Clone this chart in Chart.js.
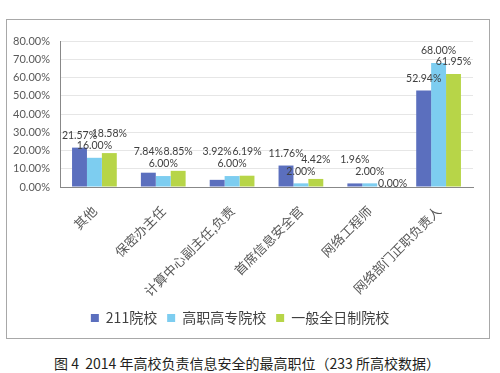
<!DOCTYPE html>
<html>
<head>
<meta charset="utf-8">
<script src="https://cdn.jsdelivr.net/npm/chart.js@4.4.1/dist/chart.umd.min.js"></script>
<style>
  html, body { margin: 0; padding: 0; background: #fff; }
  body { width: 500px; height: 373px; position: relative; overflow: hidden; }
  #box {
    position: absolute; left: 6px; top: 19px; width: 482px; height: 318px;
    border: 1.5px solid #a8a8a8;
  }
  #caption {
    position: absolute; left: 0; width: 494px; top: 353px; text-align: center;
    font-family: "Noto Sans CJK SC", sans-serif; font-size: 14px; color: #231f20;
    white-space: pre;
  }
</style>
</head>
<body>
<div id="box"><canvas id="myChart" width="482" height="318"></canvas></div>
<div id="caption">图 4  2014 年高校负责信息安全的最高职位（233 所高校数据）</div>
<script>
// categories and series (percent)
const categories = ["其他", "保密办主任", "计算中心副主任,负责", "首席信息安全官", "网络工程师", "网络部门正职负责人"];
const seriesNames = ["211院校", "高职高专院校", "一般全日制院校"];
const s211 = [21.57, 7.84, 3.92, 11.76, 1.96, 52.94];
const sGaozhi = [16.0, 6.0, 6.0, 2.0, 2.0, 68.0];
const sQuanri = [18.58, 8.85, 6.19, 4.42, 0.0, 61.95];
const yTicks = [0, 10, 20, 30, 40, 50, 60, 70, 80];

const colors = ["#5b6fbe", "#7dcdf0", "#b7d548"];

// value labels above bars; light blue placed first, others moved up if they collide
// (a zero value has no bar, so its label drops below the blocker instead)
const valueLabels = {
  id: "valueLabels",
  afterDatasetsDraw(chart) {
    const ctx = chart.ctx;
    ctx.save();
    ctx.font = "10.5px Lato, sans-serif";
    ctx.fillStyle = "#404040";
    ctx.textAlign = "center";
    ctx.textBaseline = "middle";
    const h = 12, tolX = 8, tolY = 4;
    const order = [1, 0, 2];
    categories.forEach((_, i) => {
      const placed = [];
      order.forEach((d) => {
        const val = chart.data.datasets[d].data[i];
        const bar = chart.getDatasetMeta(d).data[i];
        const txt = val.toFixed(2) + "%";
        const w = ctx.measureText(txt).width;
        let cy = bar.y - 12;
        for (let n = 0; n < 4; n++) {
          let moved = false;
          for (const p of placed) {
            const ox = Math.min(bar.x + w / 2, p.x + p.w / 2) - Math.max(bar.x - w / 2, p.x - p.w / 2);
            const oy = Math.min(cy + h / 2, p.y + h / 2) - Math.max(cy - h / 2, p.y - h / 2);
            if (ox > tolX && oy > tolY) {
              cy = val === 0 ? p.y + h : p.y - h;
              moved = true;
            }
          }
          if (!moved) break;
        }
        placed.push({ x: bar.x, y: cy, w });
        ctx.fillText(txt, bar.x + (val === 0 ? 8 : 0), cy);
      });
    });
    ctx.restore();
  },
};

const ctx = document.getElementById("myChart");
new Chart(ctx, {
  type: "bar",
  data: {
    labels: categories,
    datasets: [s211, sGaozhi, sQuanri].map((arr, k) => ({
      label: seriesNames[k],
      data: arr,
      backgroundColor: colors[k],
      borderWidth: 0,
      categoryPercentage: 0.65,
      barPercentage: 1.0,
    })),
  },
  options: {
    responsive: false,
    animation: false,
    layout: { padding: { top: 21, right: 16, bottom: 3, left: 0 } },
    plugins: {
      tooltip: { enabled: false },
      legend: {
        position: "bottom",
        labels: {
          boxWidth: 8,
          boxHeight: 8,
          padding: 10,
          color: "#404040",
          font: { family: "'Noto Sans CJK SC', sans-serif", size: 14 },
        },
      },
    },
    scales: {
      y: {
        min: 0,
        max: 80,
        afterFit: (scale) => { scale.width = 53; },
        afterBuildTicks: (scale) => { scale.ticks = yTicks.map((v) => ({ value: v })); },
        grid: { color: "#e6e6e6", drawTicks: false },
        border: { color: "#888888", width: 1 },
        ticks: {
          padding: 10,
          color: "#595959",
          font: { family: "Lato, sans-serif", size: 11 },
          callback: (v) => v.toFixed(2) + "%",
        },
      },
      x: {
        afterFit: (scale) => { scale.height = 114; },
        grid: { display: false },
        border: { color: "#888888", width: 1 },
        ticks: {
          minRotation: 45,
          maxRotation: 45,
          autoSkip: false,
          padding: 8,
          color: "#595959",
          font: { family: "'Noto Sans CJK SC', sans-serif", size: 13 },
        },
      },
    },
  },
  plugins: [valueLabels],
});
</script>
</body>
</html>
